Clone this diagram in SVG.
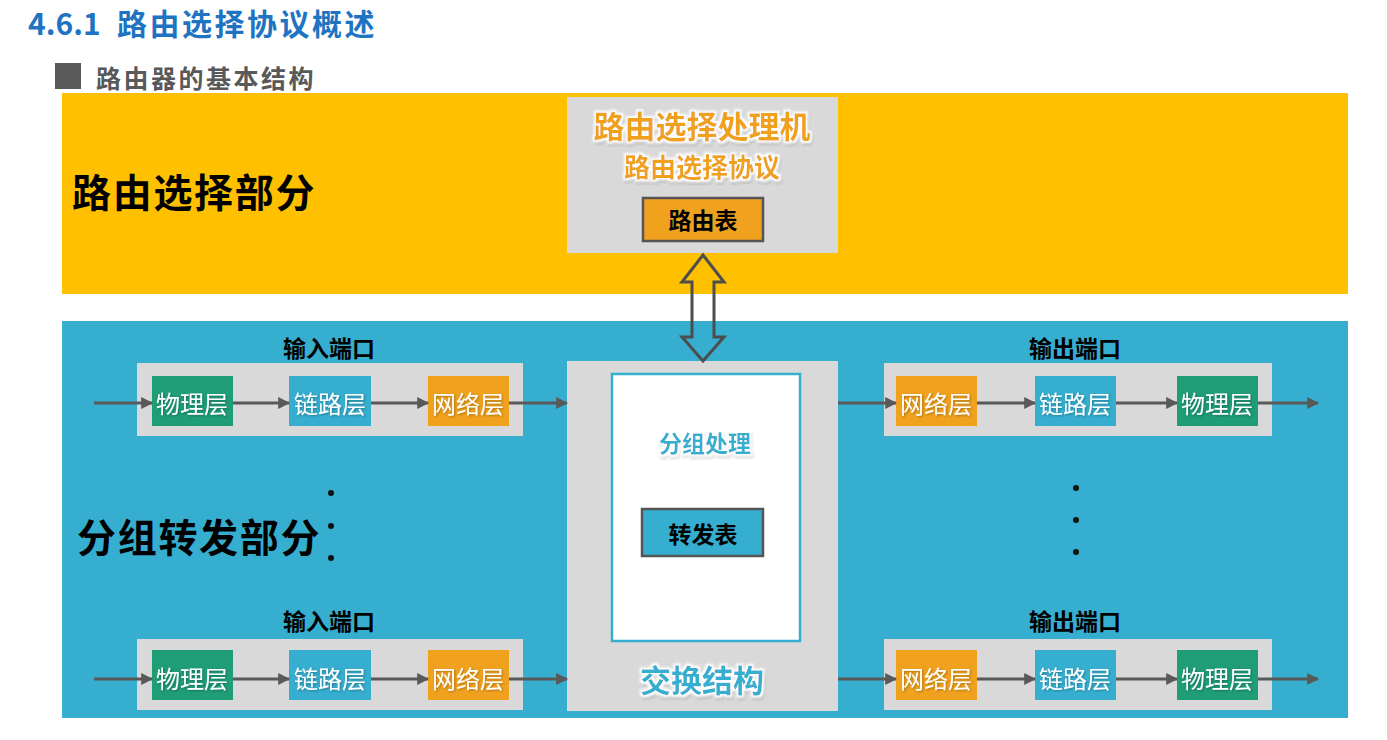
<svg xmlns="http://www.w3.org/2000/svg" width="1387" height="740" viewBox="0 0 1387 740">
<defs>
<style>
.cjk{font-family:"Noto Sans CJK SC","Noto Sans",sans-serif;font-weight:bold}
.ctr{text-anchor:middle;dominant-baseline:central}
.lay{font-family:"Noto Sans CJK SC",sans-serif;font-size:24px;fill:#fff;text-anchor:middle;dominant-baseline:central}
.port{fill:#D9D9D9}
.flow{stroke:#595959;stroke-width:3;fill:none;marker-end:url(#ah)}
.dot{fill:#111}
</style>
<marker id="ah" viewBox="0 0 10 10" refX="9" refY="5" markerWidth="4" markerHeight="4" orient="auto" markerUnits="strokeWidth">
<path d="M0,0 L10,5 L0,10 Z" fill="#595959"/>
</marker>
<filter id="glow" x="-20%" y="-40%" width="140%" height="180%">
<feMorphology in="SourceAlpha" operator="dilate" radius="2" result="d"/>
<feGaussianBlur in="d" stdDeviation="0.8" result="b"/>
<feOffset in="b" dx="1" dy="1.5" result="o"/>
<feFlood flood-color="#000" flood-opacity="0.25"/>
<feComposite in2="o" operator="in" result="sh"/>
<feFlood flood-color="#fff"/>
<feComposite in2="b" operator="in" result="w"/>
<feMerge><feMergeNode in="sh"/><feMergeNode in="w"/><feMergeNode in="SourceGraphic"/></feMerge>
</filter>
<filter id="soft" x="-10%" y="-30%" width="120%" height="160%">
<feGaussianBlur in="SourceAlpha" stdDeviation="1"/>
<feOffset dx="1" dy="1" result="o"/>
<feFlood flood-color="#000" flood-opacity="0.3"/>
<feComposite in2="o" operator="in" result="sh"/>
<feMerge><feMergeNode in="sh"/><feMergeNode in="SourceGraphic"/></feMerge>
</filter>
</defs>

<rect width="1387" height="740" fill="#fff"/>

<g id="title">
<text x="28" y="35" class="cjk" font-size="30" fill="#1F74C2">4.6.1 <tspan x="117" letter-spacing="2.5">路由选择协议概述</tspan></text>
</g>
<g id="subtitle">
<rect x="55" y="63" width="26" height="26" fill="#595959"/>
<text x="96" y="77" class="cjk" font-size="25" fill="#595959" dominant-baseline="central" letter-spacing="2.5">路由器的基本结构</text>
</g>

<g id="routing-part">
<rect x="62" y="93" width="1286" height="201" fill="#FFC000"/>
<text x="72" y="190" class="cjk" font-size="39" fill="#000" dominant-baseline="central" letter-spacing="1.7">路由选择部分</text>
</g>

<g id="forwarding-part">
<rect x="62" y="321" width="1286" height="397" fill="#36AECF"/>
<text x="77" y="535" class="cjk" font-size="39" fill="#000" dominant-baseline="central" letter-spacing="1.7">分组转发部分</text>
</g>

<g id="routing-processor">
<rect x="567" y="97" width="271" height="156" fill="#D9D9D9"/>
<text x="702" y="124" class="cjk ctr" font-size="31" fill="#F0A11E" filter="url(#glow)">路由选择处理机</text>
<text x="702" y="165" class="cjk ctr" font-size="26" fill="#F0A11E" filter="url(#glow)">路由选择协议</text>
<rect x="643" y="198" width="120" height="43" fill="#F0A11E" stroke="#555" stroke-width="2.5"/>
<text x="703" y="219" class="cjk ctr" font-size="23" fill="#000">路由表</text>
</g>

<g id="switch-fabric">
<rect x="567" y="361" width="271" height="350" fill="#D9D9D9"/>
<rect x="612" y="374" width="188" height="267" fill="#fff" stroke="#36AECF" stroke-width="2.5"/>
<text x="705" y="442" class="cjk ctr" font-size="23" fill="#36AECF" filter="url(#glow)">分组处理</text>
<rect x="642" y="509" width="121" height="47" fill="#36AECF" stroke="#555" stroke-width="2.5"/>
<text x="703" y="533" class="cjk ctr" font-size="23" fill="#000">转发表</text>
<text x="702" y="678" class="cjk ctr" font-size="31" fill="#36AECF" filter="url(#glow)">交换结构</text>
</g>

<g id="input-port-1">
<text x="329" y="347" class="cjk ctr" font-size="23" fill="#000">输入端口</text>
<rect class="port" x="137" y="363" width="386" height="73"/>
<rect x="152" y="376" width="81" height="50" fill="#1F9D77"/>
<text x="192" y="402" class="lay" filter="url(#soft)">物理层</text>
<rect x="289" y="376" width="82" height="50" fill="#36AECF"/>
<text x="330" y="402" class="lay" filter="url(#soft)">链路层</text>
<rect x="428" y="376" width="81" height="50" fill="#F0A11E"/>
<text x="468" y="402" class="lay" filter="url(#soft)">网络层</text>
</g>

<g id="input-port-2">
<text x="329" y="620" class="cjk ctr" font-size="23" fill="#000">输入端口</text>
<rect class="port" x="137" y="639" width="386" height="71"/>
<rect x="152" y="650" width="81" height="50" fill="#1F9D77"/>
<text x="192" y="677" class="lay" filter="url(#soft)">物理层</text>
<rect x="289" y="650" width="82" height="50" fill="#36AECF"/>
<text x="330" y="677" class="lay" filter="url(#soft)">链路层</text>
<rect x="428" y="650" width="81" height="50" fill="#F0A11E"/>
<text x="468" y="677" class="lay" filter="url(#soft)">网络层</text>
</g>

<g id="output-port-1">
<text x="1075" y="347" class="cjk ctr" font-size="23" fill="#000">输出端口</text>
<rect class="port" x="884" y="363" width="388" height="73"/>
<rect x="896" y="376" width="81" height="50" fill="#F0A11E"/>
<text x="936" y="402" class="lay" filter="url(#soft)">网络层</text>
<rect x="1035" y="376" width="81" height="50" fill="#36AECF"/>
<text x="1075" y="402" class="lay" filter="url(#soft)">链路层</text>
<rect x="1177" y="376" width="81" height="50" fill="#1F9D77"/>
<text x="1217" y="402" class="lay" filter="url(#soft)">物理层</text>
</g>

<g id="output-port-2">
<text x="1075" y="620" class="cjk ctr" font-size="23" fill="#000">输出端口</text>
<rect class="port" x="884" y="639" width="388" height="71"/>
<rect x="896" y="650" width="81" height="50" fill="#F0A11E"/>
<text x="936" y="677" class="lay" filter="url(#soft)">网络层</text>
<rect x="1035" y="650" width="81" height="50" fill="#36AECF"/>
<text x="1075" y="677" class="lay" filter="url(#soft)">链路层</text>
<rect x="1177" y="650" width="81" height="50" fill="#1F9D77"/>
<text x="1217" y="677" class="lay" filter="url(#soft)">物理层</text>
</g>

<g id="ellipsis">
<circle class="dot" cx="331" cy="493" r="3"/>
<circle class="dot" cx="331" cy="526" r="3"/>
<circle class="dot" cx="331" cy="558" r="3"/>
<circle class="dot" cx="1076" cy="488" r="3"/>
<circle class="dot" cx="1076" cy="520" r="3"/>
<circle class="dot" cx="1076" cy="552" r="3"/>
</g>

<g id="connectors">
<path d="M703,255 L724,282 L714,282 L714,337 L724,337 L703,361 L682,337 L692,337 L692,282 L682,282 Z" fill="none" stroke="#4D4D4D" stroke-width="3" stroke-linejoin="miter"/>
<line class="flow" x1="94" y1="403" x2="152" y2="403"/>
<line class="flow" x1="233" y1="403" x2="289" y2="403"/>
<line class="flow" x1="371" y1="403" x2="428" y2="403"/>
<line class="flow" x1="509" y1="403" x2="567" y2="403"/>
<line class="flow" x1="838" y1="403" x2="896" y2="403"/>
<line class="flow" x1="977" y1="403" x2="1035" y2="403"/>
<line class="flow" x1="1116" y1="403" x2="1177" y2="403"/>
<line class="flow" x1="1258" y1="403" x2="1318" y2="403"/>
<line class="flow" x1="94" y1="679" x2="152" y2="679"/>
<line class="flow" x1="233" y1="679" x2="289" y2="679"/>
<line class="flow" x1="371" y1="679" x2="428" y2="679"/>
<line class="flow" x1="509" y1="679" x2="567" y2="679"/>
<line class="flow" x1="838" y1="679" x2="896" y2="679"/>
<line class="flow" x1="977" y1="679" x2="1035" y2="679"/>
<line class="flow" x1="1116" y1="679" x2="1177" y2="679"/>
<line class="flow" x1="1258" y1="679" x2="1318" y2="679"/>
</g>
</svg>
